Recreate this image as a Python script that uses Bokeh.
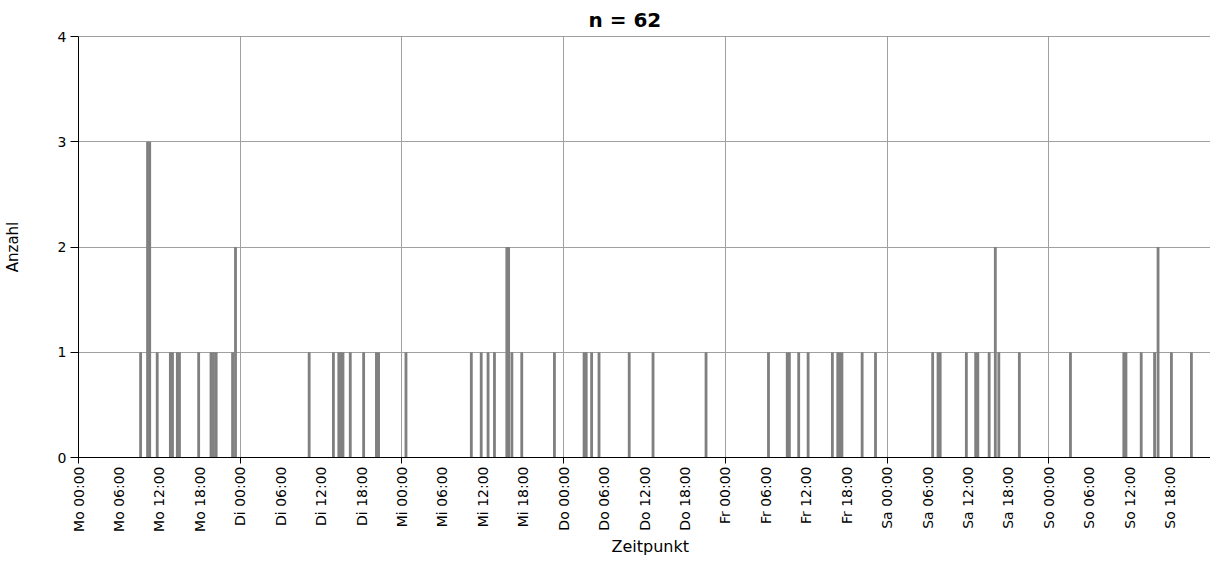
import math
from bokeh.plotting import figure
from bokeh.models import Range1d, FixedTicker, LinearAxis, Span, Title
from bokeh.embed import file_html
from bokeh.resources import INLINE

# ---- data ----
tage = ["Mo", "Di", "Mi", "Do", "Fr", "Sa", "So"]
y_ticks = [0, 1, 2, 3, 4]
titel = "n = 62"
x_titel = "Zeitpunkt"
y_titel = "Anzahl"

zeiten_mo = ["09:13", "10:15", "10:34", "11:41", "13:38", "13:57", "14:40", "14:59",
             "17:50", "19:40", "20:02", "20:26", "22:52", "23:18"]
anzahl_mo = [1, 3, 3, 1, 1, 1, 1, 1, 1, 1, 1, 1, 1, 2]

zeiten_di = ["10:14", "13:50", "14:38", "14:56", "15:15", "16:20", "18:19", "20:13", "20:32"]
anzahl_di = [1, 1, 1, 1, 1, 1, 1, 1, 1]

zeiten_mi = ["00:36", "10:18", "11:46", "12:47", "13:44", "15:34", "15:50", "16:19", "17:47", "22:38"]
anzahl_mi = [1, 1, 1, 1, 1, 2, 2, 1, 1, 1]

zeiten_do = ["03:02", "03:21", "04:09", "05:15", "09:44", "13:16", "21:08"]
anzahl_do = [1, 1, 1, 1, 1, 1, 1]

zeiten_fr = ["06:24", "09:11", "09:30", "10:53", "12:17", "15:53", "16:41", "16:59",
             "17:18", "20:18", "22:17"]
anzahl_fr = [1, 1, 1, 1, 1, 1, 1, 1, 1, 1, 1]

zeiten_sa = ["06:46", "07:34", "07:53", "11:46", "13:09", "13:28", "15:09", "16:04", "16:35", "19:38"]
anzahl_sa = [1, 1, 1, 1, 1, 1, 1, 2, 1, 1]

zeiten_so = ["03:13", "11:08", "11:27", "13:43", "15:42", "16:13", "18:12", "21:10"]
anzahl_so = [1, 1, 1, 1, 1, 2, 1, 1]

# ---- build ----
alle_zeiten = [zeiten_mo, zeiten_di, zeiten_mi, zeiten_do, zeiten_fr, zeiten_sa, zeiten_so]
alle_anzahl = [anzahl_mo, anzahl_di, anzahl_mi, anzahl_do, anzahl_fr, anzahl_sa, anzahl_so]

xs, ys = [], []
for d, (zl, al) in enumerate(zip(alle_zeiten, alle_anzahl)):
    for z, a in zip(zl, al):
        hh, mm = z.split(":")
        xs.append(d * 24 + int(hh) + int(mm) / 60)
        ys.append(a)

n_hours = 24 * len(tage)
day_ticks = [24 * d for d in range(len(tage))]
six_ticks = [6 * k for k in range(4 * len(tage))]
overrides = {t: f"{tage[t // 24]} {t % 24:02d}:00" for t in six_ticks}

FONT = "DejaVu Sans"

p = figure(width=1210, height=555,
           x_range=Range1d(0, n_hours), y_range=Range1d(y_ticks[0], y_ticks[-1]),
           output_backend="svg", toolbar_location=None, min_border=0,
           min_border_left=71, min_border_right=0, min_border_top=29, min_border_bottom=0,
           title=titel)
p.outline_line_color = None
p.background_fill_color = "white"

p.title.align = "left"
p.title.offset = 510
p.title.text_font = FONT
p.title.text_font_size = "20px"
p.title.text_font_style = "bold"
p.title.text_color = "black"

p.vbar(x=xs, top=ys, width=0.42, bottom=0, fill_color="#808080", line_color=None)

# x axis 1: day ticks, no labels
ax1 = p.xaxis[0]
ax1.ticker = FixedTicker(ticks=day_ticks)
ax1.major_label_overrides = {t: "" for t in day_ticks}
ax1.major_label_standoff = 0
ax1.major_tick_out = 6
ax1.major_tick_in = 0
ax1.minor_tick_line_color = None
ax1.axis_line_color = "black"
ax1.major_tick_line_color = "black"

# x axis 2: six-hour labels
ax2 = LinearAxis(ticker=FixedTicker(ticks=six_ticks), major_label_overrides=overrides,
                 axis_line_color=None, major_tick_line_color=None, minor_tick_line_color=None,
                 major_tick_out=0, major_tick_in=0)
ax2.major_label_orientation = math.pi / 2
ax2.major_label_text_font = FONT
ax2.major_label_text_font_size = "14px"
ax2.major_label_text_color = "black"
ax2.major_label_standoff = 3
p.add_layout(ax2, "below")

xt = Title(text=x_titel, align="left", offset=533, text_font=FONT, text_font_size="16px",
           text_font_style="normal", text_color="black", standoff=0, vertical_align="bottom")
p.add_layout(xt, "below")

ay = p.yaxis[0]
ay.ticker = FixedTicker(ticks=y_ticks)
ay.major_tick_out = 8
ay.major_tick_in = 0
ay.minor_tick_line_color = None
ay.axis_line_color = "black"
ay.major_tick_line_color = "black"
ay.major_label_text_font = FONT
ay.major_label_text_font_size = "14px"
ay.major_label_text_color = "black"
ay.major_label_standoff = 4
ay.axis_label = y_titel
ay.axis_label_text_font = FONT
ay.axis_label_text_font_size = "15px"
ay.axis_label_text_font_style = "normal"
ay.axis_label_text_color = "black"
ay.axis_label_standoff = 33

p.xgrid.ticker = FixedTicker(ticks=day_ticks)
p.xgrid.grid_line_color = "#a0a0a0"
p.ygrid.ticker = FixedTicker(ticks=y_ticks)
p.ygrid.grid_line_color = "#a0a0a0"

p.add_layout(Span(location=y_ticks[-1], dimension="width", line_color="#404040", line_width=1))

open("out.html", "w").write(file_html(p, INLINE))
